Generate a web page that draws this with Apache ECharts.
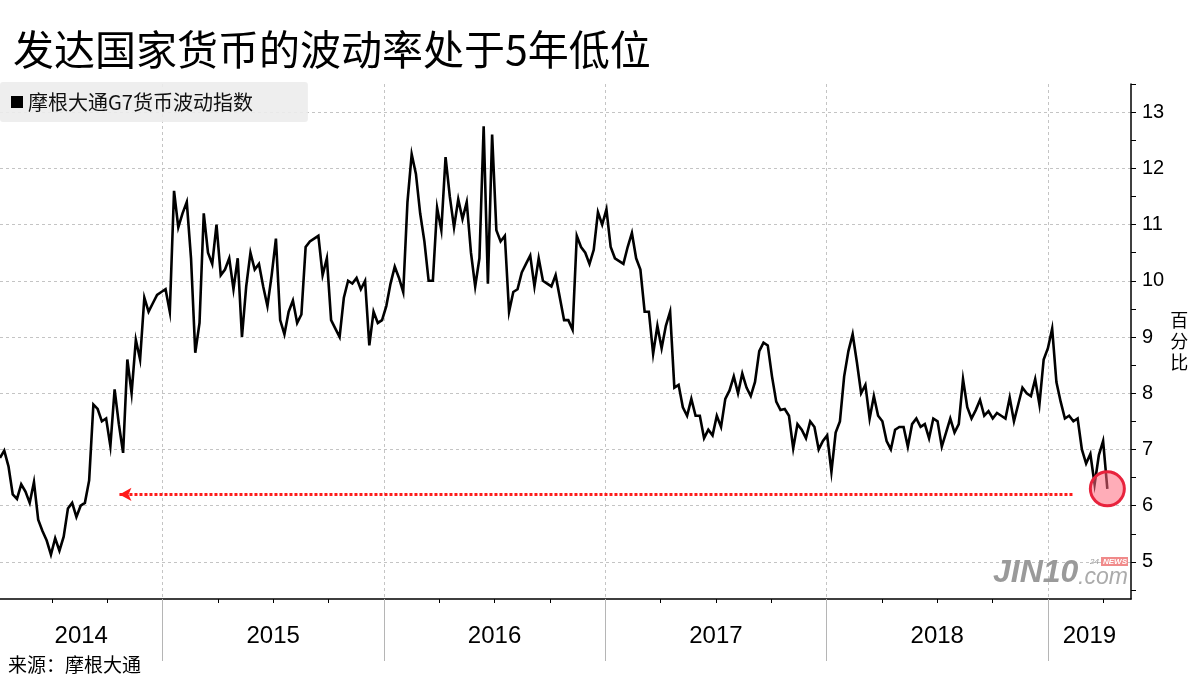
<!DOCTYPE html>
<html><head><meta charset="utf-8">
<script src="https://cdn.jsdelivr.net/npm/echarts@6/dist/echarts.min.js"></script>
<style>html,body{margin:0;padding:0;background:#fff}#c{width:1200px;height:675px}</style>
</head><body><div id="c"></div>
<script>
const chartTitle = '发达国家货币的波动率处于5年低位';
const seriesName = '摩根大通G7货币波动指数';
const sourceNote = '来源：摩根大通';
const unitName = '百分比';
const firstWeek = '2014-04-08';
const axisStart = '2014-04-08';
const axisEnd = '2019-05-18';
const yearLabels = ['2014', '2015', '2016', '2017', '2018', '2019'];
const yTickLabels = [5, 6, 7, 8, 9, 10, 11, 12, 13];
const yMin = 4.34, yMax = 13.5;

// weekly readings of the index (percent)
const vol2014 = [6.85, 6.98, 6.7, 6.2, 6.12, 6.38, 6.25, 6.05, 6.42, 5.75, 5.55, 5.38, 5.13, 5.42, 5.2, 5.45, 5.95, 6.05, 5.8, 6.0,
  6.05, 6.45, 7.8, 7.72, 7.5, 7.55, 7.06, 8.07, 7.45, 6.94, 8.6, 8.0, 8.95, 8.6, 9.7, 9.45, 9.6, 9.75, 9.8];
const vol2015 = [9.85, 9.45, 11.6, 10.95, 11.2, 11.4, 10.4, 8.72, 9.25, 11.2, 10.5, 10.3, 11.0, 10.1, 10.2, 10.4, 9.85, 10.4, 9.0, 9.9,
  10.5, 10.2, 10.3, 9.9, 9.55, 10.1, 10.75, 9.3, 9.05, 9.45, 9.65, 9.25, 9.4, 10.6, 10.7, 10.75, 10.8, 10.1, 10.4, 9.3,
  9.15, 9.0, 9.7, 10.0, 9.95, 10.05, 9.85, 10.0, 8.85, 9.45, 9.25, 9.3];
const vol2016 = [9.55, 9.95, 10.25, 10.05, 9.8, 11.4, 12.25, 11.9, 11.2, 10.7, 10.0, 10.0, 11.3, 10.9, 12.2, 11.5, 10.95, 11.45, 11.1, 11.4,
  10.5, 9.9, 10.4, 12.75, 9.95, 12.6, 10.9, 10.7, 10.8, 9.45, 9.8, 9.85, 10.15, 10.3, 10.45, 9.9, 10.4, 10.0, 9.95, 9.9,
  10.1, 9.7, 9.3, 9.3, 9.13, 10.8, 10.6, 10.5, 10.3, 10.55, 11.22, 11.0];
const vol2017 = [11.27, 10.6, 10.4, 10.35, 10.3, 10.6, 10.85, 10.4, 10.2, 9.45, 9.45, 8.7, 9.2, 8.8, 9.2, 9.45, 8.1, 8.15, 7.75, 7.6,
  7.9, 7.6, 7.6, 7.2, 7.35, 7.25, 7.6, 7.4, 7.9, 8.05, 8.3, 8.0, 8.35, 8.1, 7.95, 8.2, 8.75, 8.9, 8.85, 8.3,
  7.85, 7.7, 7.72, 7.6, 7.02, 7.45, 7.35, 7.2, 7.5, 7.4, 7.0, 7.15];
const vol2018 = [7.25, 6.6, 7.3, 7.5, 8.3, 8.75, 9.05, 8.55, 8.0, 8.15, 7.55, 7.95, 7.6, 7.5, 7.15, 7.0, 7.35, 7.4, 7.4, 7.05,
  7.45, 7.55, 7.4, 7.45, 7.2, 7.55, 7.5, 7.05, 7.3, 7.55, 7.3, 7.45, 8.25, 7.75, 7.55, 7.7, 7.88, 7.6, 7.68, 7.55,
  7.65, 7.6, 7.55, 7.92, 7.5, 7.8, 8.1, 8.0, 7.95, 8.25, 7.8, 8.6];
const vol2019 = [8.8, 9.15, 8.2, 7.85, 7.55, 7.6, 7.5, 7.55, 7.0, 6.75, 6.92, 6.38, 6.9, 7.15, 6.3];

// annotation: five-year-low reference line
const lowLevel = 6.2;
const arrowFrom = '2014-10-22';
const arrowTo = '2019-02-11';

function toYear(ms) {
  const d = new Date(ms);
  const y = d.getUTCFullYear();
  const s = Date.UTC(y, 0, 1), e = Date.UTC(y + 1, 0, 1);
  return y + (ms - s) / (e - s);
}
function parseDay(str) { return Date.parse(str + 'T00:00:00Z'); }

const values = [].concat(vol2014, vol2015, vol2016, vol2017, vol2018, vol2019);
const t0 = parseDay(firstWeek);
const data = values.map((v, i) => [toYear(t0 + i * 7 * 864e5), v]);
const last = data[data.length - 1];

const xMin = toYear(parseDay(axisStart));
const xMax = toYear(parseDay(axisEnd));

const quarterTicks = [];
const yearTicks = [];
const yearLabelPos = [];
yearLabels.forEach(ys => {
  const y = +ys;
  [0, 0.25, 0.5, 0.75].forEach(q => { const v = y + q; if (v >= xMin && v <= xMax) quarterTicks.push(v); });
  if (y >= xMin && y <= xMax) yearTicks.push(y);
  yearLabelPos.push((Math.max(y, xMin) + Math.min(y + 1, xMax)) / 2);
});
const halfTicks = [];
for (let v = 4.5; v <= yMax + 1e-9; v += 0.5) halfTicks.push(v);

const CJK = '"Noto Sans CJK SC", "Noto Sans", sans-serif';
const gridBox = { left: 0, right: 69, top: 84, bottom: 76 };
const dashed = { show: true, lineStyle: { color: '#c4c4c4', type: [3, 3], width: 1 } };

const chart = echarts.init(document.getElementById('c'), null, { renderer: 'canvas' });
chart.setOption({
  animation: false,
  backgroundColor: '#ffffff',
  title: [
    { text: chartTitle, left: 8, top: 24, textStyle: { fontFamily: CJK, fontSize: 41, fontWeight: 'normal', color: '#000' } },
    { text: sourceNote, left: 3, top: 650, textStyle: { fontFamily: CJK, fontSize: 19, fontWeight: 'normal', color: '#000' } }
  ],
  legend: {
    data: [seriesName], left: 0, top: 82, icon: 'rect', itemWidth: 12, itemHeight: 12,
    padding: [10, 55, 10, 11], backgroundColor: 'rgba(236,236,236,0.9)', borderRadius: 3,
    textStyle: { fontFamily: CJK, fontSize: 20, color: '#111' }, selectedMode: false
  },
  grid: [Object.assign({}, gridBox), Object.assign({}, gridBox)],
  xAxis: [
    {
      type: 'value', gridIndex: 0, min: xMin, max: xMax, position: 'bottom',
      axisLine: { show: true, onZero: false, lineStyle: { color: '#000', width: 1.5 } },
      axisTick: { show: true, customValues: quarterTicks, length: 4, lineStyle: { color: '#000', width: 1 } },
      axisLabel: {
        show: true, customValues: yearLabelPos, margin: 25,
        formatter: v => String(Math.floor(v)),
        fontFamily: '"Liberation Sans Narrow", "Liberation Sans", sans-serif', fontSize: 24, color: '#000'
      },
      splitLine: { show: false }
    },
    {
      type: 'value', gridIndex: 1, min: xMin, max: xMax, position: 'bottom',
      axisLine: { show: false },
      axisTick: { show: true, customValues: yearTicks, length: 62, lineStyle: { color: '#b5b5b5', width: 1 } },
      axisLabel: { show: false },
      splitLine: dashed
    }
  ],
  yAxis: [
    {
      type: 'value', gridIndex: 0, min: yMin, max: yMax, position: 'right',
      name: unitName.split('').join('\n'), nameLocation: 'middle', nameRotate: 0, nameGap: 34,
      nameTextStyle: { fontFamily: CJK, fontSize: 18, lineHeight: 21, color: '#000', padding: [0, 0, 22, 0] },
      axisLine: { show: true, lineStyle: { color: '#000', width: 1.5 } },
      axisTick: { show: true, customValues: halfTicks, length: 5, lineStyle: { color: '#000', width: 1 } },
      axisLabel: {
        show: true, customValues: yTickLabels, margin: 11,
        fontFamily: '"Liberation Sans", Arial, sans-serif', fontSize: 20, color: '#000'
      },
      splitLine: { show: false }
    },
    {
      type: 'value', gridIndex: 1, min: yMin, max: yMax, position: 'right',
      axisLine: { show: false },
      axisTick: { show: false, customValues: yTickLabels },
      axisLabel: { show: false },
      splitLine: dashed
    }
  ],
  series: [{
    name: seriesName, type: 'line', xAxisIndex: 0, yAxisIndex: 0, data: data,
    showSymbol: false, symbol: 'none', color: '#000',
    lineStyle: { color: '#000', width: 2.6, join: 'miter' },
    z: 3,
    markLine: {
      silent: true, animation: false,
      symbol: ['arrow', 'none'], symbolSize: [10, 12],
      lineStyle: { color: '#ff1a1a', width: 3, type: [3, 2] },
      label: { show: false },
      data: [[
        { coord: [toYear(parseDay(arrowFrom)), lowLevel] },
        { coord: [toYear(parseDay(arrowTo)), lowLevel] }
      ]]
    },
    markPoint: {
      silent: true, animation: false,
      symbol: 'circle', symbolSize: 34,
      itemStyle: { color: 'rgba(255,105,125,0.55)', borderColor: '#e8233d', borderWidth: 3 },
      label: { show: false },
      data: [{ coord: last }]
    }
  }],
  graphic: [
    { type: 'text', left: 993, top: 557, z: 1, style: { text: 'JIN10', font: 'italic bold 32px "Liberation Sans", sans-serif', fill: '#9a9a9a' } },
    { type: 'text', left: 1078, top: 566, z: 1, style: { text: '.com', font: 'italic 23px "Liberation Sans", sans-serif', fill: '#ababab' } },
    { type: 'text', left: 1090, top: 558, z: 1, style: { text: '24', font: 'italic 8px "Liberation Sans", sans-serif', fill: '#999' } },
    { type: 'rect', left: 1101, top: 557, z: 1, shape: { width: 27, height: 9 }, style: { fill: '#f08a8a' } },
    { type: 'text', left: 1103, top: 558, z: 2, style: { text: 'NEWS', font: 'italic bold 8px "Liberation Sans", sans-serif', fill: '#fff' } }
  ]
});
</script>
</body></html>
